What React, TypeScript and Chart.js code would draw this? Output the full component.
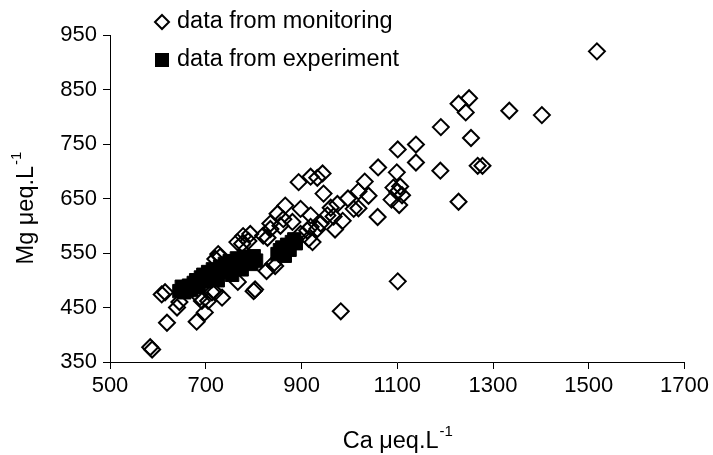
import React, { useEffect, useRef } from "react";
import { Chart, registerables } from "chart.js";

Chart.register(...registerables);

// Monitoring data (Ca, Mg in µeq/L)
const monitoringCa = [
  1517, 1334, 1402, 1250, 1228, 1243, 1191, 1254, 1139, 1101,
  1139, 1190, 1268, 1278, 1228, 1060, 1099, 1032, 1092, 1106,
  1088, 1110, 1104, 1100, 1040, 997, 1019, 1059, 1101, 982,
  975, 970, 944, 933, 919, 894, 946, 866, 898, 919,
  961, 954, 940, 967, 1009, 850, 862, 835, 881, 919,
  778, 793, 766, 898, 915, 933, 835, 829, 923, 841,
  827, 800, 767, 734, 713, 688, 698, 681, 619, 640,
  608, 584, 588, 726, 776, 789, 730, 692, 705, 645,
  719, 856, 1019, 912, 986, 760, 745, 820, 720, 845,
  803, 615,
];
const monitoringMg = [
  920, 811, 803, 834, 824, 808, 781, 761, 749, 740,
  716, 701, 710, 710, 644, 707, 698, 681, 670, 672,
  648, 656, 638, 662, 655, 650, 632, 616, 498, 443,
  640, 593, 696, 688, 690, 680, 659, 637, 631, 619,
  633, 619, 604, 617, 631, 622, 612, 604, 607, 598,
  581, 585, 570, 585, 576, 594, 594, 578, 570, 530,
  517, 480, 497, 468, 478, 469, 441, 424, 422, 450,
  474, 377, 373, 548, 567, 572, 543, 462, 462, 460,
  478, 600, 663, 591, 609, 520, 530, 582, 539, 526,
  483, 478,
];

// Experiment data (Ca, Mg in µeq/L)
const experimentCa = [
  645, 650, 655, 660, 665, 670, 675, 680, 685, 690,
  695, 700, 705, 710, 715, 720, 725, 730, 735, 740,
  745, 750, 755, 760, 765, 770, 775, 780, 785, 790,
  795, 800, 805, 850, 855, 860, 865, 870, 875, 880,
  885, 888,
];
const experimentMg = [
  480, 488, 478, 485, 490, 482, 495, 500, 488, 505,
  510, 498, 515, 505, 520, 510, 500, 525, 515, 530,
  520, 535, 510, 525, 540, 530, 520, 543, 535, 540,
  530, 544, 536, 548, 555, 560, 545, 565, 556, 570,
  575, 568,
];

const xTicks = [500, 700, 900, 1100, 1300, 1500, 1700];
const yTicks = [350, 450, 550, 650, 750, 850, 950];

const seriesNames = ["data from monitoring", "data from experiment"];
const xTitle = "Ca μeq.L";
const yTitle = "Mg μeq.L";
const titleSup = "-1";

const FONT = '"Liberation Sans", Arial, sans-serif';

export default function App() {
  const ref = useRef<HTMLCanvasElement | null>(null);

  useEffect(() => {
    const canvas = ref.current;
    if (!canvas) return;

    const overlay = {
      id: "overlay",
      afterDraw(chart: any) {
        const ctx = chart.ctx as CanvasRenderingContext2D;
        const area = chart.chartArea;
        ctx.save();
        ctx.fillStyle = "#000";
        ctx.strokeStyle = "#000";
        // Legend
        const lx = 162;
        const ly1 = 22;
        const ly2 = 60;
        ctx.lineWidth = 2;
        ctx.beginPath();
        ctx.moveTo(lx, ly1 - 7);
        ctx.lineTo(lx + 7, ly1);
        ctx.lineTo(lx, ly1 + 7);
        ctx.lineTo(lx - 7, ly1);
        ctx.closePath();
        ctx.stroke();
        ctx.fillRect(lx - 7, ly2 - 7, 14, 14);
        ctx.font = `23.5px ${FONT}`;
        ctx.textBaseline = "middle";
        ctx.textAlign = "left";
        ctx.fillText(seriesNames[0], 177, ly1);
        ctx.fillText(seriesNames[1], 177, ly2);

        // X title
        ctx.textBaseline = "alphabetic";
        ctx.font = `23.5px ${FONT}`;
        const w1 = ctx.measureText(xTitle).width;
        ctx.font = `15px ${FONT}`;
        const w2 = ctx.measureText(titleSup).width;
        const cx = (area.left + area.right) / 2;
        const startX = cx - (w1 + w2) / 2;
        ctx.font = `23.5px ${FONT}`;
        ctx.fillText(xTitle, startX, 448);
        ctx.font = `15px ${FONT}`;
        ctx.fillText(titleSup, startX + w1 + 1, 436);

        // Y title
        ctx.save();
        const cy = (area.top + area.bottom) / 2 + 10;
        ctx.translate(33, cy);
        ctx.rotate(-Math.PI / 2);
        ctx.font = `23.5px ${FONT}`;
        const h1 = ctx.measureText(yTitle).width;
        ctx.font = `15px ${FONT}`;
        const h2 = ctx.measureText(titleSup).width;
        const sx = -(h1 + h2) / 2;
        ctx.font = `23.5px ${FONT}`;
        ctx.fillText(yTitle, sx, 0);
        ctx.font = `15px ${FONT}`;
        ctx.fillText(titleSup, sx + h1 + 1, -12);
        ctx.restore();

        ctx.restore();
      },
    };

    const chart = new Chart(canvas, {
      type: "scatter",
      data: {
        datasets: [
          {
            label: seriesNames[0],
            data: monitoringCa.map((x, i) => ({ x, y: monitoringMg[i] })),
            pointStyle: "rectRot",
            pointRadius: 8,
            pointBorderWidth: 2,
            borderColor: "#000",
            pointBorderColor: "#000",
            backgroundColor: "rgba(0,0,0,0)",
            pointBackgroundColor: "rgba(0,0,0,0)",
            order: 1,
          },
          {
            label: seriesNames[1],
            data: experimentCa.map((x, i) => ({ x, y: experimentMg[i] })),
            pointStyle: "rect",
            pointRadius: 9.5,
            pointBorderWidth: 1,
            borderColor: "#000",
            pointBorderColor: "#000",
            backgroundColor: "#000",
            pointBackgroundColor: "#000",
            order: 0,
          },
        ],
      },
      options: {
        responsive: false,
        animation: false,
        devicePixelRatio: 1,
        layout: { padding: { top: 35, right: 27, left: 0, bottom: 0 } },
        plugins: {
          legend: { display: false },
          tooltip: { enabled: false },
        },
        scales: {
          x: {
            type: "linear",
            min: xTicks[0],
            max: xTicks[xTicks.length - 1],
            afterBuildTicks(scale: any) {
              scale.ticks = xTicks.map((v) => ({ value: v }));
            },
            afterFit(scale: any) {
              scale.height = 93;
            },
            ticks: {
              color: "#000",
              font: { family: FONT, size: 22 },
              padding: 4,
              maxRotation: 0,
              callback: (v: any) => String(v),
            },
            grid: {
              display: true,
              drawOnChartArea: false,
              drawTicks: true,
              tickLength: 7,
              color: "#000",
            },
            border: { display: true, color: "#000", width: 1 },
          },
          y: {
            type: "linear",
            min: yTicks[0],
            max: yTicks[yTicks.length - 1],
            afterBuildTicks(scale: any) {
              scale.ticks = yTicks.map((v) => ({ value: v }));
            },
            afterFit(scale: any) {
              scale.width = 110;
            },
            ticks: {
              color: "#000",
              font: { family: FONT, size: 22 },
              padding: 6,
              callback: (v: any) => String(v),
            },
            grid: {
              display: true,
              drawOnChartArea: false,
              drawTicks: true,
              tickLength: 7,
              color: "#000",
            },
            border: { display: true, color: "#000", width: 1 },
          },
        },
      },
      plugins: [overlay],
    } as any);

    return () => chart.destroy();
  }, []);

  return (
    <div style={{ position: "absolute", left: 0, top: 0, width: 713, height: 455, background: "#fff" }}>
      <canvas ref={ref} width={713} height={455} style={{ width: 713, height: 455 }} />
    </div>
  );
}
